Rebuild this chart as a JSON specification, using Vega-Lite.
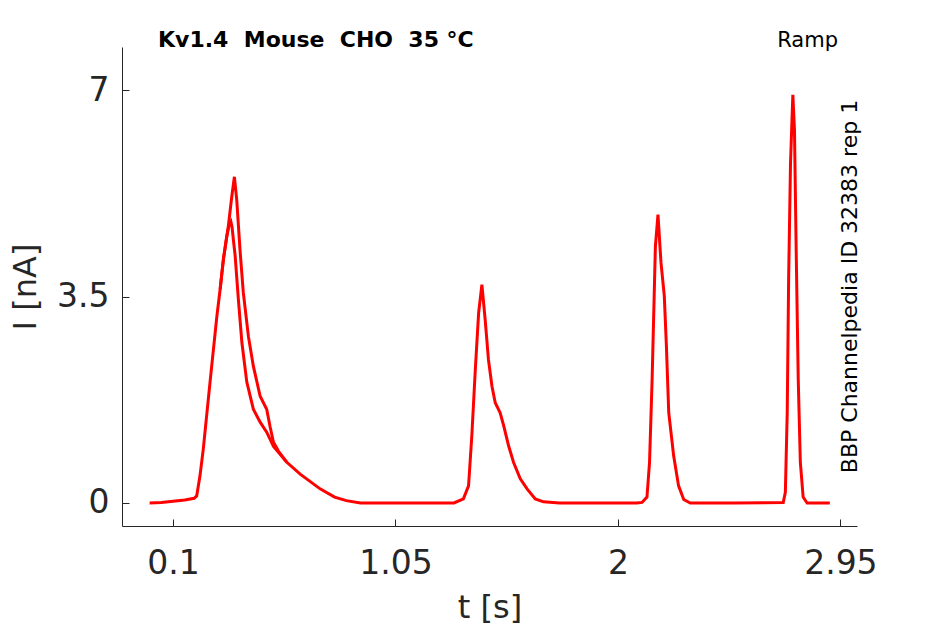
{
  "$schema": "https://vega.github.io/schema/vega-lite/v6.json",
  "autosize": {"type": "none"},
  "padding": {"left": 122, "top": 47, "right": 88, "bottom": 98},
  "width": 735,
  "height": 479,
  "background": "white",
  "config": {
    "view": {"stroke": null},
    "font": "DejaVu Sans",
    "axis": {
      "grid": false,
      "domainColor": "#262626",
      "domainWidth": 1,
      "tickColor": "#262626",
      "tickWidth": 1,
      "tickSize": -7,
      "labelColor": "#262626",
      "titleColor": "#262626",
      "labelFont": "DejaVu Sans",
      "titleFont": "DejaVu Sans",
      "labelFontSize": 33,
      "titleFontSize": 32,
      "titleFontWeight": "normal"
    }
  },
  "datasets": {
    "trace": [
      {"t": 0.0, "I": 0.0, "rep": "a"},
      {"t": 0.05, "I": 0.01, "rep": "a"},
      {"t": 0.1, "I": 0.03, "rep": "a"},
      {"t": 0.15, "I": 0.05, "rep": "a"},
      {"t": 0.19, "I": 0.08, "rep": "a"},
      {"t": 0.201, "I": 0.12, "rep": "a"},
      {"t": 0.215, "I": 0.46, "rep": "a"},
      {"t": 0.229, "I": 0.91, "rep": "a"},
      {"t": 0.258, "I": 2.05, "rep": "a"},
      {"t": 0.287, "I": 3.16, "rep": "a"},
      {"t": 0.301, "I": 3.62, "rep": "a"},
      {"t": 0.315, "I": 4.13, "rep": "a"},
      {"t": 0.329, "I": 4.51, "rep": "a"},
      {"t": 0.34, "I": 4.72, "rep": "a"},
      {"t": 0.347, "I": 4.77, "rep": "a"},
      {"t": 0.352, "I": 4.68, "rep": "a"},
      {"t": 0.358, "I": 4.45, "rep": "a"},
      {"t": 0.365, "I": 4.2, "rep": "a"},
      {"t": 0.379, "I": 3.45, "rep": "a"},
      {"t": 0.394, "I": 2.72, "rep": "a"},
      {"t": 0.415, "I": 2.05, "rep": "a"},
      {"t": 0.443, "I": 1.59, "rep": "a"},
      {"t": 0.472, "I": 1.37, "rep": "a"},
      {"t": 0.5, "I": 1.2, "rep": "a"},
      {"t": 0.529, "I": 0.96, "rep": "a"},
      {"t": 0.586, "I": 0.69, "rep": "a"},
      {"t": 0.643, "I": 0.49, "rep": "a"},
      {"t": 0.728, "I": 0.24, "rep": "a"},
      {"t": 0.79, "I": 0.1, "rep": "a"},
      {"t": 0.84, "I": 0.04, "rep": "a"},
      {"t": 0.9, "I": 0.0, "rep": "a"},
      {"t": 1.1, "I": 0.0, "rep": "a"},
      {"t": 1.3, "I": 0.0, "rep": "a"},
      {"t": 1.34, "I": 0.07, "rep": "a"},
      {"t": 1.362, "I": 0.29, "rep": "a"},
      {"t": 1.376, "I": 1.14, "rep": "a"},
      {"t": 1.391, "I": 2.27, "rep": "a"},
      {"t": 1.405, "I": 3.22, "rep": "a"},
      {"t": 1.419, "I": 3.7, "rep": "a"},
      {"t": 1.433, "I": 3.11, "rep": "a"},
      {"t": 1.447, "I": 2.43, "rep": "a"},
      {"t": 1.462, "I": 1.98, "rep": "a"},
      {"t": 1.476, "I": 1.7, "rep": "a"},
      {"t": 1.497, "I": 1.53, "rep": "a"},
      {"t": 1.512, "I": 1.31, "rep": "a"},
      {"t": 1.533, "I": 0.97, "rep": "a"},
      {"t": 1.554, "I": 0.69, "rep": "a"},
      {"t": 1.583, "I": 0.41, "rep": "a"},
      {"t": 1.612, "I": 0.24, "rep": "a"},
      {"t": 1.647, "I": 0.07, "rep": "a"},
      {"t": 1.682, "I": 0.02, "rep": "a"},
      {"t": 1.75, "I": 0.0, "rep": "a"},
      {"t": 1.9, "I": 0.0, "rep": "a"},
      {"t": 2.08, "I": 0.0, "rep": "a"},
      {"t": 2.103, "I": 0.01, "rep": "a"},
      {"t": 2.124, "I": 0.1, "rep": "a"},
      {"t": 2.135, "I": 0.69, "rep": "a"},
      {"t": 2.146, "I": 2.1, "rep": "a"},
      {"t": 2.153, "I": 3.22, "rep": "a"},
      {"t": 2.16, "I": 4.35, "rep": "a"},
      {"t": 2.171, "I": 4.89, "rep": "a"},
      {"t": 2.184, "I": 4.07, "rep": "a"},
      {"t": 2.198, "I": 3.51, "rep": "a"},
      {"t": 2.207, "I": 2.66, "rep": "a"},
      {"t": 2.217, "I": 1.53, "rep": "a"},
      {"t": 2.238, "I": 0.8, "rep": "a"},
      {"t": 2.259, "I": 0.29, "rep": "a"},
      {"t": 2.281, "I": 0.06, "rep": "a"},
      {"t": 2.309, "I": 0.0, "rep": "a"},
      {"t": 2.5, "I": 0.0, "rep": "a"},
      {"t": 2.706, "I": 0.01, "rep": "a"},
      {"t": 2.715, "I": 0.18, "rep": "a"},
      {"t": 2.723, "I": 1.53, "rep": "a"},
      {"t": 2.729, "I": 3.79, "rep": "a"},
      {"t": 2.737, "I": 5.76, "rep": "a"},
      {"t": 2.747, "I": 6.92, "rep": "a"},
      {"t": 2.754, "I": 6.32, "rep": "a"},
      {"t": 2.761, "I": 4.35, "rep": "a"},
      {"t": 2.77, "I": 2.1, "rep": "a"},
      {"t": 2.779, "I": 0.69, "rep": "a"},
      {"t": 2.791, "I": 0.1, "rep": "a"},
      {"t": 2.808, "I": 0.0, "rep": "a"},
      {"t": 2.905, "I": 0.0, "rep": "a"},
      {"t": 0.301, "I": 3.62, "rep": "b"},
      {"t": 0.315, "I": 4.13, "rep": "b"},
      {"t": 0.336, "I": 4.69, "rep": "b"},
      {"t": 0.351, "I": 5.2, "rep": "b"},
      {"t": 0.362, "I": 5.53, "rep": "b"},
      {"t": 0.372, "I": 5.14, "rep": "b"},
      {"t": 0.386, "I": 4.29, "rep": "b"},
      {"t": 0.4, "I": 3.57, "rep": "b"},
      {"t": 0.422, "I": 2.82, "rep": "b"},
      {"t": 0.443, "I": 2.32, "rep": "b"},
      {"t": 0.472, "I": 1.81, "rep": "b"},
      {"t": 0.5, "I": 1.59, "rep": "b"},
      {"t": 0.514, "I": 1.3, "rep": "b"},
      {"t": 0.529, "I": 1.03, "rep": "b"},
      {"t": 0.55, "I": 0.88, "rep": "b"},
      {"t": 0.586, "I": 0.69, "rep": "b"}
    ]
  },
  "layer": [
    {
      "data": {"name": "trace"},
      "mark": {"type": "line", "color": "#ff0000", "strokeWidth": 3, "clip": true},
      "encoding": {
        "x": {
          "field": "t",
          "type": "quantitative",
          "title": "t [s]",
          "scale": {"domain": [-0.118, 3.021], "nice": false, "zero": false},
          "axis": {"values": [0.1, 1.05, 2, 2.95], "format": ".3~g", "labelPadding": 28, "titlePadding": 12}
        },
        "y": {
          "field": "I",
          "type": "quantitative",
          "title": "I [nA]",
          "scale": {"domain": [-0.39, 7.73], "nice": false, "zero": false},
          "axis": {"values": [0, 3.5, 7], "format": ".2~g", "labelPadding": 20, "titlePadding": 14}
        },
        "detail": {"field": "rep"}
      }
    },
    {
      "data": {"values": [{"label": "Kv1.4\u00a0\u00a0Mouse\u00a0\u00a0CHO\u00a0\u00a035 °C"}]},
      "mark": {"type": "text", "align": "left", "baseline": "alphabetic", "fontSize": 22, "fontWeight": "bold", "color": "#000000"},
      "encoding": {
        "x": {"datum": 0.036},
        "y": {"datum": 7.73},
        "text": {"field": "label"}
      }
    },
    {
      "data": {"values": [{"label": "Ramp"}]},
      "mark": {"type": "text", "align": "right", "baseline": "alphabetic", "fontSize": 21, "color": "#000000"},
      "encoding": {
        "x": {"datum": 2.94},
        "y": {"datum": 7.73},
        "text": {"field": "label"}
      }
    },
    {
      "data": {"values": [{"label": "BBP Channelpedia ID 32383 rep 1"}]},
      "mark": {"type": "text", "align": "center", "baseline": "alphabetic", "angle": 270, "fontSize": 22, "color": "#000000"},
      "encoding": {
        "x": {"datum": 3.021},
        "y": {"datum": 3.67},
        "text": {"field": "label"}
      }
    }
  ]
}
